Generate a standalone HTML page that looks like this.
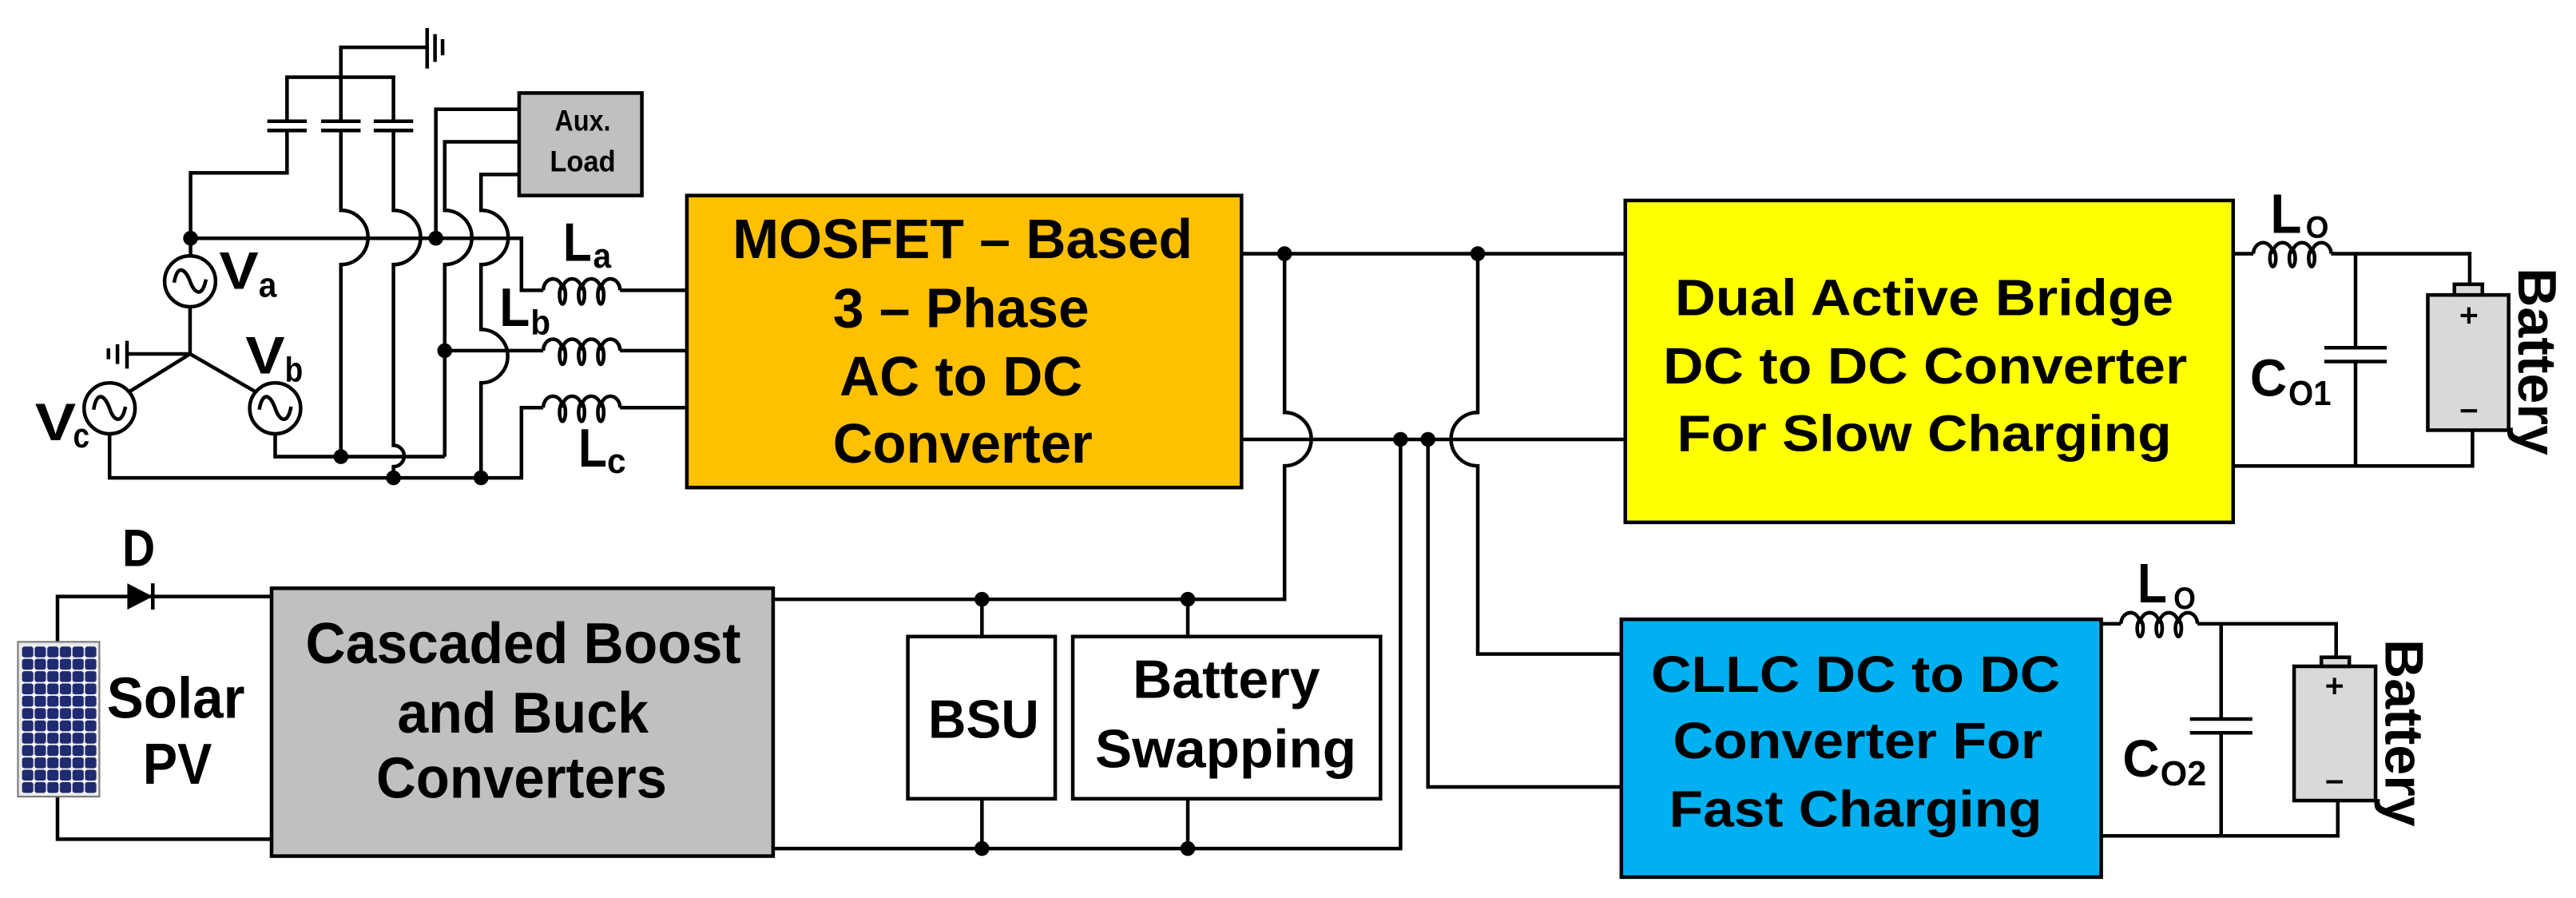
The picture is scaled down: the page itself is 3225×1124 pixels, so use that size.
<!DOCTYPE html>
<html><head><meta charset="utf-8"><style>
html,body{margin:0;padding:0;background:#fff;}
svg{display:block;}
text{font-family:"Liberation Sans",Arial,sans-serif;font-weight:bold;fill:#000;}
</style></head><body>
<svg width="3225" height="1124" viewBox="0 0 1568 546.5" preserveAspectRatio="none" xmlns="http://www.w3.org/2000/svg">
<defs>
<pattern id="cells" x="13" y="393" width="7.67" height="7.5" patternUnits="userSpaceOnUse">
<rect x="0.4" y="0.4" width="6.9" height="6.7" rx="1.5" fill="#1f2b6e"/>
</pattern>
</defs>
<rect width="1568" height="546.5" fill="#fff"/>
<g fill="none" stroke="#000" stroke-width="2.2" stroke-linejoin="miter">
<!-- top ground -->
<path d="M207.5,73.8 V28.8 H260"/>
<path d="M260,17 V41.7 M264.8,20.8 V37.7 M269.4,23.8 V33.7"/>
<!-- cap bus -->
<path d="M174.7,73.8 V47 H239.5 V73.8"/>
<path d="M162.7,73.8 H186.7 M162.7,79.4 H186.7 M195.5,73.8 H219.5 M195.5,79.4 H219.5 M227.5,73.8 H251.5 M227.5,79.4 H251.5"/>
<path d="M174.7,79.4 V105.2 H116 V155.8"/>
<path d="M207.5,79.4 V128 A16.5,16.5 0 0 1 207.5,161 V277.9"/>
<path d="M239.5,79.4 V128 A16.5,16.5 0 0 1 239.5,161 V271 A6.5,6.5 0 0 1 239.5,284 V290.8"/>
<!-- Va bus -->
<path d="M116,145 H317.4 V176.7 H330.7"/>
<!-- aux wires -->
<path d="M265.3,145 V66.5 H316"/>
<path d="M270.7,277.9 V161 A16.5,16.5 0 0 0 270.7,128 V86.3 H316"/>
<path d="M292.8,290.8 V233 A16.2,16.2 0 0 0 292.8,200.5 V161 A16.5,16.5 0 0 0 292.8,128 V106.2 H316"/>
<!-- sources -->
<circle cx="115.7" cy="171.2" r="15.5"/>
<circle cx="66.7" cy="248.5" r="15.5"/>
<circle cx="167.5" cy="248.5" r="15.5"/>
<path d="M106,172 C108,160 113,164 115.7,171.2 C118,178 123,182 125.4,170" />
<path d="M57,249.3 C59,237 64,241 66.7,248.5 C69,256 74,259 76.4,247.5" />
<path d="M157.8,249.3 C160,237 165,241 167.5,248.5 C170,256 175,259 177.2,247.5" />
<path d="M115.7,186.7 V215.4 L78.5,238.5 M115.7,215.4 L155.7,238.5 M115.7,215.4 H77.3"/>
<path d="M77.3,207.4 V224.3 M71.5,209.5 V221.5 M66,212 V218.6"/>
<path d="M66.7,264 V290.8 H317.4 V248.1 H330.7"/>
<path d="M167.5,264 V277.9 H270.7"/>
<path d="M270.7,213.4 H330.7"/>
<!-- inductor outputs -->
<path d="M377.4,176.7 H418 M377.4,213.4 H418 M377.4,248.1 H418"/>
<!-- DC bus -->
<path d="M755.7,154.4 H989.3 M755.7,267.4 H989.3"/>
<path d="M781.9,154.4 V251 A16.2,16.2 0 0 1 781.9,283.5 V364.7 H470.6"/>
<path d="M899.5,154.4 V251 A16.2,16.2 0 0 0 899.5,283.5 V398 H986.9"/>
<path d="M852.5,267.4 V516.4 H470.6"/>
<path d="M869.2,267.4 V478.9 H986.9"/>
<path d="M597.7,364.7 V387.4 M723,364.7 V387.4 M597.7,486.1 V516.4 M723,486.1 V516.4"/>
<!-- PV -->
<path d="M35,390.6 V363 H165.3 M35,484.8 V510.7 H165.3"/>
<path d="M93,355 V371"/>
<!-- DAB output -->
<path d="M1359.3,154.4 H1371.6 M1419,154.4 H1503.3 V173"/>
<path d="M1359.3,283.6 H1505 V261.8"/>
<path d="M1433.8,154.4 V211.6 M1433.8,220 V283.6 M1414.8,211.6 H1452.8 M1414.8,220 H1452.8"/>
<!-- CLLC output -->
<path d="M1279,379.6 H1291 M1337.6,379.6 H1422 V400"/>
<path d="M1279,508.7 H1423 V487.2"/>
<path d="M1352,379.6 V437.6 M1352,446 V508.7 M1333,437.6 H1371 M1333,446 H1371"/>
</g>
<!-- inductors -->
<g fill="none" stroke="#000" stroke-width="2.2">
<path d="M330.7,176.7 a5.84,7 0 0 1 11.68,0 a5.84,7 0 0 1 11.68,0 a5.84,7 0 0 1 11.68,0 a5.84,7 0 0 1 11.68,0"/>
<ellipse cx="342.4" cy="179.5" rx="1.8" ry="5.5"/><ellipse cx="354" cy="179.5" rx="1.8" ry="5.5"/><ellipse cx="365.7" cy="179.5" rx="1.8" ry="5.5"/>
<path d="M330.7,213.4 a5.84,7 0 0 1 11.68,0 a5.84,7 0 0 1 11.68,0 a5.84,7 0 0 1 11.68,0 a5.84,7 0 0 1 11.68,0"/>
<ellipse cx="342.4" cy="216.2" rx="1.8" ry="5.5"/><ellipse cx="354" cy="216.2" rx="1.8" ry="5.5"/><ellipse cx="365.7" cy="216.2" rx="1.8" ry="5.5"/>
<path d="M330.7,248.1 a5.84,7 0 0 1 11.68,0 a5.84,7 0 0 1 11.68,0 a5.84,7 0 0 1 11.68,0 a5.84,7 0 0 1 11.68,0"/>
<ellipse cx="342.4" cy="250.9" rx="1.8" ry="5.5"/><ellipse cx="354" cy="250.9" rx="1.8" ry="5.5"/><ellipse cx="365.7" cy="250.9" rx="1.8" ry="5.5"/>
<path d="M1371.6,154.4 a5.93,7 0 0 1 11.85,0 a5.93,7 0 0 1 11.85,0 a5.93,7 0 0 1 11.85,0 a5.93,7 0 0 1 11.85,0"/>
<ellipse cx="1383.5" cy="157.2" rx="1.8" ry="5"/><ellipse cx="1395.3" cy="157.2" rx="1.8" ry="5"/><ellipse cx="1407.1" cy="157.2" rx="1.8" ry="5"/>
<path d="M1291,379.6 a5.83,7 0 0 1 11.65,0 a5.83,7 0 0 1 11.65,0 a5.83,7 0 0 1 11.65,0 a5.83,7 0 0 1 11.65,0"/>
<ellipse cx="1302.7" cy="382.4" rx="1.8" ry="5"/><ellipse cx="1314.3" cy="382.4" rx="1.8" ry="5"/><ellipse cx="1326" cy="382.4" rx="1.8" ry="5"/>
</g>
<!-- dots -->
<g fill="#000">
<circle cx="116" cy="145" r="4.5"/><circle cx="265.3" cy="145" r="4.5"/><circle cx="270.7" cy="213.4" r="4.5"/>
<circle cx="207.5" cy="277.9" r="4.5"/><circle cx="239.5" cy="290.8" r="4.5"/><circle cx="292.8" cy="290.8" r="4.5"/>
<circle cx="781.9" cy="154.4" r="4.5"/><circle cx="899.5" cy="154.4" r="4.5"/><circle cx="852.5" cy="267.4" r="4.5"/><circle cx="869.2" cy="267.4" r="4.5"/>
<circle cx="597.7" cy="364.7" r="4.5"/><circle cx="723" cy="364.7" r="4.5"/><circle cx="597.7" cy="516.4" r="4.5"/><circle cx="723" cy="516.4" r="4.5"/>
<path d="M77.5,355 L93,363 L77.5,371 Z"/>
</g>
<!-- boxes -->
<g stroke="#000" stroke-width="2.2">
<rect x="316" y="56.6" width="74.7" height="62.4" fill="#c0c0c0"/>
<rect x="418.1" y="119" width="337.6" height="177.7" fill="#ffc000"/>
<rect x="989.3" y="122" width="370" height="195.9" fill="#ffff00"/>
<rect x="986.9" y="376.9" width="292.1" height="156.9" fill="#00b0f0"/>
<rect x="165.3" y="358" width="305.3" height="163" fill="#c0c0c0"/>
<rect x="552.6" y="387.4" width="89.7" height="98.7" fill="#fff"/>
<rect x="653" y="387.4" width="187.3" height="98.7" fill="#fff"/>
<rect x="1477.8" y="179.5" width="49.2" height="82.3" fill="#d9d9d9"/>
<rect x="1494" y="173" width="17" height="6.5" fill="#d9d9d9"/>
<rect x="1396.4" y="405.5" width="49.6" height="81.7" fill="#d9d9d9"/>
<rect x="1413" y="400" width="17" height="5.5" fill="#d9d9d9"/>
</g>
<!-- solar panel -->
<rect x="10.9" y="390.6" width="49.6" height="94.2" fill="#e8e8e8" stroke="#777" stroke-width="1"/>
<rect x="13" y="393" width="46" height="90" fill="#fff"/>
<rect x="13" y="393" width="46" height="90" fill="url(#cells)"/>
<!-- battery signs -->
<g stroke="#000" stroke-width="2" fill="none">
<path d="M1497.8,192 H1507.8 M1502.8,187 V197 M1497.8,250 H1507.8"/>
<path d="M1416,417.5 H1426 M1421,412.5 V422.5 M1416,475.8 H1426"/>
</g>
<!-- texts -->
<text x="354.7" y="79.4" font-size="18" text-anchor="middle" fill="#000" textLength="34" lengthAdjust="spacingAndGlyphs">Aux.</text>
<text x="354.7" y="104.2" font-size="18" text-anchor="middle" textLength="40" lengthAdjust="spacingAndGlyphs">Load</text>
<text x="133.4" y="175.7" font-size="32" textLength="24" lengthAdjust="spacingAndGlyphs">V</text>
<text x="157.4" y="180.6" font-size="21" textLength="11" lengthAdjust="spacingAndGlyphs">a</text>
<text x="149.4" y="227.3" font-size="32" textLength="24" lengthAdjust="spacingAndGlyphs">V</text>
<text x="173.4" y="232.2" font-size="21" textLength="11" lengthAdjust="spacingAndGlyphs">b</text>
<text x="21.3" y="268" font-size="32" textLength="25" lengthAdjust="spacingAndGlyphs">V</text>
<text x="44.5" y="272.3" font-size="21" textLength="10" lengthAdjust="spacingAndGlyphs">c</text>
<text x="342.7" y="158.8" font-size="33" textLength="17.5" lengthAdjust="spacingAndGlyphs">L</text>
<text x="361" y="162.8" font-size="21" textLength="11" lengthAdjust="spacingAndGlyphs">a</text>
<text x="304" y="198.5" font-size="33" textLength="18.5" lengthAdjust="spacingAndGlyphs">L</text>
<text x="323" y="203.5" font-size="21" textLength="12" lengthAdjust="spacingAndGlyphs">b</text>
<text x="352" y="283.9" font-size="33" textLength="17.5" lengthAdjust="spacingAndGlyphs">L</text>
<text x="369.5" y="287.8" font-size="21" textLength="11.5" lengthAdjust="spacingAndGlyphs">c</text>

<text x="445.9" y="157" font-size="34" textLength="280" lengthAdjust="spacingAndGlyphs">MOSFET – Based</text>
<text x="507" y="199" font-size="34" textLength="156" lengthAdjust="spacingAndGlyphs">3 – Phase</text>
<text x="511" y="240.6" font-size="34" textLength="148" lengthAdjust="spacingAndGlyphs">AC to DC</text>
<text x="507" y="281.4" font-size="34" textLength="158" lengthAdjust="spacingAndGlyphs">Converter</text>

<text x="1019.5" y="191.8" font-size="31" textLength="303.5" lengthAdjust="spacingAndGlyphs">Dual Active Bridge</text>
<text x="1012.3" y="233.4" font-size="31" textLength="319" lengthAdjust="spacingAndGlyphs">DC to DC Converter</text>
<text x="1020.8" y="274.4" font-size="31" textLength="301" lengthAdjust="spacingAndGlyphs">For Slow Charging</text>

<text x="1005" y="421.1" font-size="31" textLength="249" lengthAdjust="spacingAndGlyphs">CLLC DC to DC</text>
<text x="1018.3" y="461.3" font-size="31" textLength="225" lengthAdjust="spacingAndGlyphs">Converter For</text>
<text x="1016" y="502.9" font-size="31" textLength="227" lengthAdjust="spacingAndGlyphs">Fast Charging</text>

<text x="186" y="403.6" font-size="35" textLength="265" lengthAdjust="spacingAndGlyphs">Cascaded Boost</text>
<text x="241.8" y="445.8" font-size="35" textLength="153" lengthAdjust="spacingAndGlyphs">and Buck</text>
<text x="229" y="485.6" font-size="35" textLength="177" lengthAdjust="spacingAndGlyphs">Converters</text>

<text x="65" y="436.9" font-size="35" textLength="84" lengthAdjust="spacingAndGlyphs">Solar</text>
<text x="87" y="477" font-size="35" textLength="42" lengthAdjust="spacingAndGlyphs">PV</text>
<text x="74.4" y="344.4" font-size="32" textLength="20" lengthAdjust="spacingAndGlyphs">D</text>
<text x="565" y="449" font-size="33" textLength="67.5" lengthAdjust="spacingAndGlyphs">BSU</text>
<text x="689.5" y="424.7" font-size="33" textLength="114" lengthAdjust="spacingAndGlyphs">Battery</text>
<text x="666.6" y="466.9" font-size="33" textLength="159" lengthAdjust="spacingAndGlyphs">Swapping</text>

<text x="1382" y="141.8" font-size="34" textLength="19" lengthAdjust="spacingAndGlyphs">L</text>
<text x="1403.5" y="144.6" font-size="19" textLength="14" lengthAdjust="spacingAndGlyphs">O</text>
<text x="1301" y="366.5" font-size="34" textLength="18" lengthAdjust="spacingAndGlyphs">L</text>
<text x="1323" y="370.6" font-size="19" textLength="13.5" lengthAdjust="spacingAndGlyphs">O</text>
<text x="1369.6" y="241" font-size="32" textLength="22.5" lengthAdjust="spacingAndGlyphs">C</text>
<text x="1393" y="246.5" font-size="21" textLength="26" lengthAdjust="spacingAndGlyphs">O1</text>
<text x="1292" y="472.5" font-size="32" textLength="22.5" lengthAdjust="spacingAndGlyphs">C</text>
<text x="1315" y="478" font-size="21" textLength="28" lengthAdjust="spacingAndGlyphs">O2</text>

<text transform="translate(1533,220) rotate(90)" font-size="33" text-anchor="middle" textLength="114" lengthAdjust="spacingAndGlyphs">Battery</text>
<text transform="translate(1452,446) rotate(90)" font-size="33" text-anchor="middle" textLength="114" lengthAdjust="spacingAndGlyphs">Battery</text>
</svg>
</body></html>
